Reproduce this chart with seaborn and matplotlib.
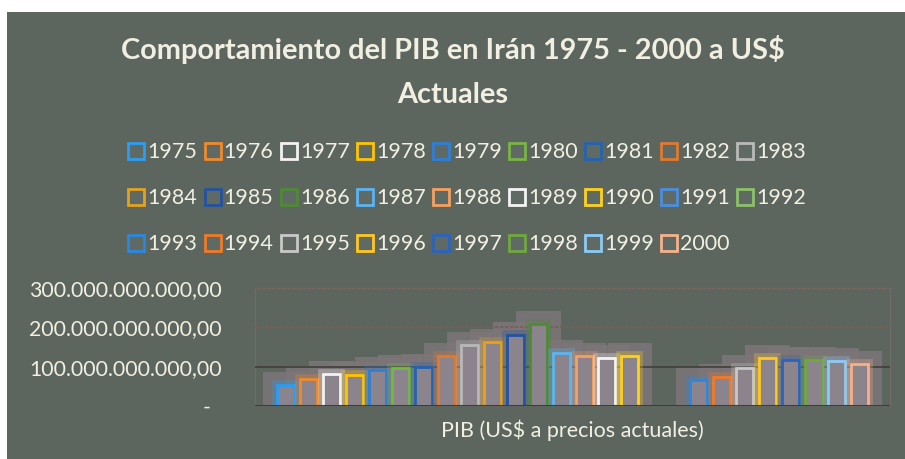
import numpy as np
import pandas as pd
import matplotlib
matplotlib.use("Agg")
import matplotlib.pyplot as plt
import matplotlib.patheffects as pe
from matplotlib.lines import Line2D
from matplotlib.patches import Rectangle
from matplotlib.ticker import FuncFormatter
import seaborn as sns

# -----------------------------------------------------------------------------
# Data (US$ corrientes)
# -----------------------------------------------------------------------------
CATEGORY = "PIB (US$ a precios actuales)"
YEARS = [str(y) for y in range(1975, 2001)]
PIB_BILLIONS = [54, 68, 81, 79, 92, 97, 100, 128, 155, 162, 181, 208, 134,
                126, 122, 126, np.nan, np.nan, 66, 74, 97, 122, 117, 117,
                115, 108]
SERIES_COLORS = ["#2a9df4", "#f08a2c", "#f2f2f2", "#ffc400", "#2f7fd8",
                 "#79b545", "#2563b0", "#e07a30", "#b9b9b9", "#e5a21a",
                 "#2252a0", "#4f8a35", "#5cb4f0", "#f5a060", "#f4f4f4",
                 "#ffd21a", "#4a8ee0", "#8cc168", "#2a88e0", "#f07a28",
                 "#c8c8c8", "#ffc820", "#2a64c0", "#6fa83e", "#8ccaf5",
                 "#f6b08a"]
Y_TICKS = [0, 100e9, 200e9, 300e9]
TITLE = "Comportamiento del PIB en Irán 1975 - 2000 a US$\nActuales"

BG = "#5c665f"
TEXT = "#f1efe2"
SHADOW = "#7d7678"
BAR_FILL = "#8c848d"


def fmt_money(v, pos=None):
    # Excel style: dots for thousands, comma for decimals, "-" for zero
    if v == 0:
        return "-  "
    s = f"{v:,.2f}"
    return s.replace(",", "X").replace(".", ",").replace("X", ".")


def main():
    plt.rcParams["font.family"] = ["Lato", "DejaVu Sans"]

    df = pd.DataFrame({
        "categoria": CATEGORY,
        "anio": YEARS,
        "pib": np.array(PIB_BILLIONS, dtype=float) * 1e9,
    })
    palette = dict(zip(YEARS, SERIES_COLORS))

    fig = plt.figure(figsize=(9.05, 4.59), dpi=100)
    fig.patch.set_facecolor("white")
    # photographed chart area (small white margin top/left)
    fig.patches.append(Rectangle((7 / 905, 0), 1, (459 - 12) / 459,
                                 transform=fig.transFigure,
                                 facecolor=BG, edgecolor="none", zorder=-10))

    ax = fig.add_axes([0.2818, 0.1155, 0.7017, 0.257])
    ax.set_facecolor("none")

    # -------------------------------------------------------------------------
    # soft shadow behind the bars (bars drawn wider/taller in gray)
    # -------------------------------------------------------------------------
    sns.barplot(data=df, x="categoria", y="pib", hue="anio", hue_order=YEARS,
                palette={y: SHADOW for y in YEARS}, width=0.94, gap=0.26,
                saturation=1, errorbar=None, legend=False, ax=ax, zorder=1)
    n_shadow = len(ax.patches)
    for p in ax.patches[:n_shadow]:
        w = p.get_width()
        p.set_x(p.get_x() - 0.82 * w)
        p.set_width(w * 2.64)
        p.set_height(p.get_height() + 33e9)
        p.set_edgecolor("none")
        p.set_alpha(0.85)

    # -------------------------------------------------------------------------
    # main bars: hollow look with coloured glowing edge
    # -------------------------------------------------------------------------
    sns.barplot(data=df, x="categoria", y="pib", hue="anio", hue_order=YEARS,
                palette=palette, width=0.94, gap=0.26, saturation=1,
                errorbar=None, legend=False, ax=ax, zorder=3)
    for p in ax.patches[n_shadow:]:
        c = p.get_facecolor()
        p.set_edgecolor(c)
        p.set_facecolor(BAR_FILL)
        p.set_linewidth(2.0)
        p.set_path_effects([pe.Stroke(linewidth=7, foreground=c, alpha=0.28),
                            pe.Normal()])

    # -------------------------------------------------------------------------
    # axes styling
    # -------------------------------------------------------------------------
    ax.set_ylim(0, 300e9)
    ax.set_xlim(-0.5, 0.5)
    ax.set_yticks(Y_TICKS)
    ax.yaxis.set_major_formatter(FuncFormatter(fmt_money))
    ax.tick_params(axis="y", length=0, pad=24, labelsize=15.3, labelcolor=TEXT)
    ax.tick_params(axis="x", length=0, pad=10, labelsize=15.5, labelcolor=TEXT)
    ax.set_xlabel("")
    ax.set_ylabel("")

    ax.set_axisbelow(False)
    ax.yaxis.grid(True, color="#7a5d58", linestyle=(0, (2, 1)), linewidth=1.2,
                  zorder=2)
    ax.get_ygridlines()[1].set_color("#3e3f3b")
    ax.get_ygridlines()[1].set_linestyle("-")
    ax.axhline(0, color="#3e3f3b", linewidth=1.5, zorder=4)
    for side in ["left", "top", "right"]:
        ax.spines[side].set_color("#6f6b66")
        ax.spines[side].set_linewidth(1.0)
    ax.spines["bottom"].set_visible(False)

    # -------------------------------------------------------------------------
    # legend (row-major order in 9 columns)
    # -------------------------------------------------------------------------
    handles = [Line2D([], [], linestyle="none", marker="s", markersize=11.5,
                      markerfacecolor="#5f6a64", markeredgecolor=c,
                      markeredgewidth=2.0) for c in SERIES_COLORS]
    ncol = 9
    order = [r * ncol + j for j in range(ncol) for r in range(3)
             if r * ncol + j < len(YEARS)]
    fig.legend([handles[i] for i in order], [YEARS[i] for i in order],
               ncol=ncol, loc="center", bbox_to_anchor=(0.516, 0.568),
               frameon=False, fontsize=15.5, labelcolor=TEXT,
               handlelength=0.8, handletextpad=0.12, columnspacing=0.3,
               labelspacing=1.2, borderpad=0)

    fig.text(0.5, 0.845, TITLE, ha="center", va="center", color=TEXT,
             fontsize=20.8, fontweight="bold", linespacing=1.85)

    fig.savefig("out.png", dpi=100, facecolor=fig.get_facecolor())
    plt.close(fig)


if __name__ == "__main__":
    main()
